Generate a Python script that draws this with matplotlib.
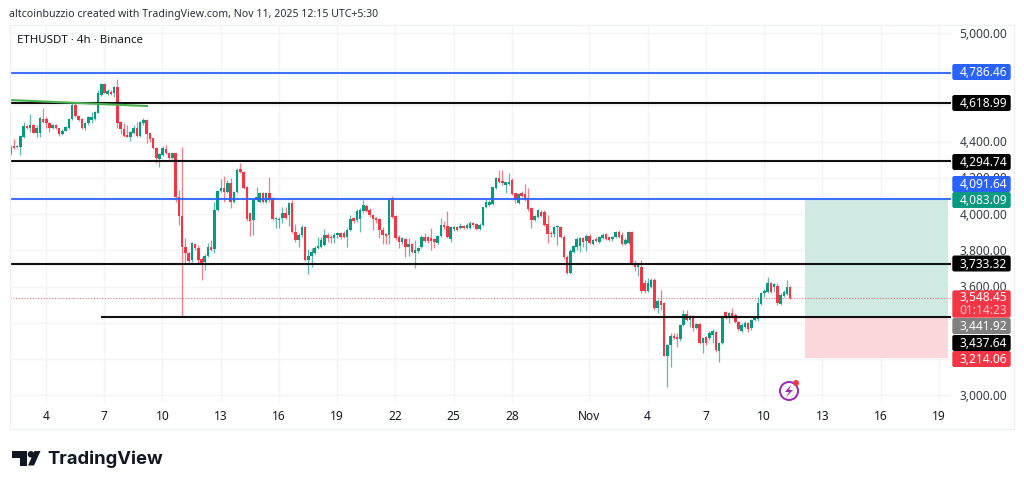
import matplotlib
matplotlib.use("Agg")
from matplotlib import pyplot as plt
from matplotlib.patches import FancyBboxPatch, Polygon, Circle, Rectangle

plt.rcParams["font.family"] = ["Noto Sans", "DejaVu Sans"]

# 4h candles
opens = [4336,4377,4369,4369,4424,4487,4474,4492,4450,4450,4524,4524,4505,4474,4492,4474,4443,4461,4474,4524,
         4603,4542,4524,4474,4502,4520,4524,4560,4658,4719,4662,4676,4671,4700,4511,4470,4437,4428,4450,4478,
         4432,4502,4520,4446,4419,4364,4307,4327,4360,4340,4312,4336,4097,3990,3821,3784,3748,3836,3816,3753,
         3735,3771,3821,3808,4023,4128,4143,4125,4171,4069,4125,4250,4235,4149,4005,3968,4079,4069,4115,4069,
         4115,4088,3972,3968,3978,4009,3996,4060,3904,3858,3886,3928,3748,3770,3788,3816,3821,3830,3886,3876,
         3867,3886,3895,3895,3873,3913,3978,3968,3972,4018,4045,4023,3996,3978,3972,3913,3889,3886,4079,3990,
         3873,3849,3862,3821,3836,3788,3797,3817,3876,3873,3867,3862,3843,3880,3939,3935,3862,3917,3928,3922,
         3935,3922,3926,3954,3946,3919,3941,4038,4051,4057,4143,4198,4185,4161,4167,4189,4115,4060,4115,4112,
         4088,4033,3968,3987,4014,4014,3946,3898,3891,3928,3932,3876,3766,3674,3794,3817,3825,3867,3854,3880,
         3836,3862,3849,3867,3891,3873,3862,3873,3904,3886,3836,3840,3904,3733,3707,3707,3619,3578,3597,3637,
         3484,3523,3508,3220,3279,3328,3321,3310,3389,3448,3417,3439,3371,3393,3288,3321,3315,3334,3352,3247,
         3288,3463,3426,3457,3444,3407,3358,3380,3398,3371,3417,3420,3505,3567,3573,3619,3600,3604,3505,3549,
         3560,3597]
highs = [4382,4413,4384,4437,4511,4491,4551,4498,4492,4535,4584,4535,4511,4498,4498,4478,4468,4487,4529,4612,
         4612,4548,4529,4511,4542,4566,4571,4685,4722,4726,4689,4685,4708,4744,4514,4502,4492,4461,4492,4511,
         4516,4529,4524,4450,4422,4369,4336,4377,4382,4345,4340,4340,4134,4369,3867,3794,3849,3843,3830,3766,
         3779,3840,3858,4069,4134,4193,4211,4189,4198,4130,4253,4281,4240,4156,4009,4088,4152,4125,4125,4119,
         4207,4097,3987,3987,4042,4042,4069,4079,3946,3895,3941,3935,3806,3812,3825,3873,3873,3917,3895,3886,
         3895,3904,3904,3909,3922,3996,3987,4027,4033,4079,4057,4033,4001,3987,3978,3932,3898,4088,4101,3996,
         3886,3876,3867,3867,3843,3858,3821,3886,3895,3880,3922,3871,3886,3977,3965,4018,3935,3935,3935,3950,
         3943,3950,3963,3959,3954,3950,4042,4082,4079,4152,4207,4244,4244,4180,4226,4198,4119,4119,4130,4167,
         4143,4038,3996,4029,4023,4023,3996,3909,3937,3941,3937,3886,3775,3806,3830,3873,3876,3876,3891,3891,
         3862,3873,3880,3895,3898,3880,3880,3909,3913,3904,3867,3909,3909,3748,3733,3748,3637,3646,3646,3646,
         3531,3582,3514,3284,3343,3343,3347,3395,3472,3472,3444,3444,3402,3402,3325,3328,3358,3365,3358,3297,
         3441,3468,3463,3481,3453,3413,3398,3411,3407,3424,3435,3545,3573,3586,3652,3628,3622,3619,3564,3582,
         3637,3604]
lows = [4327,4358,4364,4327,4419,4468,4456,4446,4424,4424,4502,4474,4456,4468,4468,4432,4435,4457,4470,4520,
        4535,4516,4470,4465,4492,4502,4520,4557,4654,4667,4656,4656,4649,4474,4443,4424,4424,4404,4443,4428,
        4428,4492,4391,4400,4358,4285,4259,4321,4332,4307,4307,4069,3941,3431,3729,3725,3738,3803,3725,3637,
        3692,3766,3797,3788,4020,4123,4069,4119,4033,4064,4119,4229,4137,3965,3882,3886,4075,4064,4064,4064,
        4069,3968,3922,3922,3950,3972,3935,3898,3849,3821,3876,3744,3668,3711,3781,3810,3816,3825,3849,3840,
        3843,3867,3862,3867,3821,3909,3950,3959,3904,4009,4012,3987,3913,3950,3867,3836,3836,3836,3978,3858,
        3812,3836,3762,3770,3784,3702,3788,3812,3847,3843,3803,3812,3836,3876,3921,3867,3849,3909,3906,3917,
        3917,3917,3921,3935,3913,3913,3935,4033,4045,4051,4137,4174,4161,4119,4161,4106,4060,4055,4093,4071,
        4020,3926,3961,3979,3983,3935,3840,3876,3873,3830,3871,3751,3670,3670,3788,3803,3794,3821,3799,3834,
        3829,3847,3843,3862,3858,3852,3854,3867,3869,3830,3829,3836,3722,3689,3659,3564,3564,3573,3591,3472,
        3453,3472,3216,3049,3159,3310,3269,3303,3383,3409,3380,3358,3365,3284,3236,3280,3306,3288,3242,3187,
        3284,3420,3398,3426,3398,3358,3350,3372,3352,3363,3409,3413,3499,3545,3567,3564,3573,3499,3499,3542,
        3553,3531]
closes = [4369,4364,4378,4432,4487,4474,4492,4450,4474,4529,4507,4502,4474,4492,4474,4443,4461,4483,4524,4603,
          4542,4520,4474,4505,4535,4535,4566,4667,4719,4671,4682,4662,4700,4502,4470,4432,4428,4456,4478,4432,
          4511,4520,4443,4413,4364,4308,4331,4364,4340,4312,4336,4093,3990,3821,3784,3744,3840,3812,3748,3729,
          3771,3821,3803,4023,4128,4143,4125,4171,4069,4125,4244,4235,4143,3972,3965,4082,4093,4115,4069,4115,
          4079,3972,3978,3976,4005,3978,4060,3904,3858,3886,3928,3748,3770,3794,3816,3825,3858,3886,3867,3867,
          3886,3895,3876,3876,3913,3972,3965,4020,4023,4051,4018,3996,3972,3968,3913,3886,3880,4079,3987,3867,
          3849,3867,3821,3836,3794,3803,3816,3876,3854,3854,3854,3849,3880,3939,3928,3873,3928,3928,3913,3935,
          3922,3941,3950,3941,3919,3941,4038,4069,4069,4149,4198,4180,4171,4176,4180,4112,4082,4112,4101,4079,
          4027,3968,3990,4023,3990,3941,3891,3891,3932,3935,3876,3762,3674,3799,3825,3862,3867,3849,3880,3840,
          3858,3852,3873,3886,3865,3858,3873,3904,3876,3836,3858,3904,3729,3707,3725,3578,3578,3622,3637,3485,
          3523,3499,3220,3279,3328,3319,3310,3389,3448,3417,3439,3371,3393,3292,3315,3288,3347,3358,3251,3288,
          3435,3426,3457,3435,3407,3367,3389,3402,3365,3417,3426,3508,3567,3578,3619,3573,3615,3508,3555,3573,
          3597,3536]

first_candle_day = 2.18
candle_days = 1 / 6

# drawn levels (line positions on the price axis)
blue_levels = [4779, 4084]
black_levels = [4614, 4291, 3728]
lower_black_level = 3433
lower_black_start = 6.885
last_price_level = 3540
trend_days = [2.145, 9.2]
trend_prices = [4630, 4597]

position_start = 43.1
position_end = 50.47
target_price = 4084
entry_price = 3433
stop_price = 3207

day_ticks = [4, 7, 10, 13, 16, 19, 22, 25, 28, 32, 35, 38, 41, 44, 47, 50]
day_labels = ["4", "7", "10", "13", "16", "19", "22", "25", "28", "Nov", "4", "7", "10", "13", "16", "19"]
price_grid = [5000, 4800, 4600, 4400, 4200, 4000, 3800, 3600, 3400, 3200, 3000]
price_ticks = [5000, 4400, 4200, 4000, 3800, 3600, 3000]
price_tick_labels = ["5,000.00", "4,400.00", "4,200.00", "4,000.00", "3,800.00", "3,600.00", "3,000.00"]

tag_texts = ["4,786.46", "4,618.99", "4,294.74", "4,091.64", "4,083.09", "3,733.32",
             "3,441.92", "3,437.64", "3,214.06"]
tag_rows = [72, 103, 162, 184, 200, 263.5, 326, 343, 359]
tag_colors = ["#2962ff", "#000000", "#000000", "#2962ff", "#089981", "#000000",
              "#808080", "#000000", "#f23645"]

UP = "#089981"
DOWN = "#f23645"

fig = plt.figure(figsize=(10.24, 4.87), dpi=100, facecolor="white")
ax = fig.add_axes([10 / 1024, 1 - 402 / 487, 941 / 1024, 377 / 487])
ax.set_xlim(2.145, 50.63)
ax.set_ylim(2964, 5044)
ax.set_xticks(day_ticks)
ax.set_xticklabels(day_labels, fontsize=8.6, color="#131722")
ax.get_xticklabels()[9].set_fontweight("bold")
ax.tick_params(axis="x", length=0, pad=6)
ax.set_yticks(price_grid)
ax.tick_params(axis="y", length=0, labelleft=False)
ax.grid(color="#f3f4f6", lw=1)
ax.set_axisbelow(True)
for s in ax.spines.values():
    s.set_visible(False)

# trade box
ax.fill_between([position_start, position_end], entry_price, target_price, color="#cfe9e3", lw=0, zorder=1)
ax.fill_between([position_start, position_end], stop_price, entry_price, color="#fbd6da", lw=0, zorder=1)

# candles
days = [first_candle_day + i * candle_days for i in range(len(closes))]
colors = [UP if c >= o else DOWN for o, c in zip(opens, closes)]
ax.vlines(days, lows, highs, colors=colors, lw=0.9, alpha=0.65, zorder=2)
ax.bar(days, [abs(c - o) for o, c in zip(opens, closes)], bottom=[min(o, c) for o, c in zip(opens, closes)],
       width=0.13, color=colors, lw=0, zorder=3)

# levels
ax.axhline(last_price_level, color=DOWN, lw=0.8, ls=(0, (1, 1.5)), alpha=0.7, zorder=2)
for level in blue_levels:
    ax.axhline(level, color="#2962ff", lw=1.5, alpha=0.9, zorder=4)
for level in black_levels:
    ax.axhline(level, color="#111111", lw=1.5, zorder=4)
ax.plot([lower_black_start, 50.63], [lower_black_level] * 2, color="#111111", lw=1.5, zorder=4)
ax.plot(trend_days, trend_prices, color="#4caf50", lw=1.5, zorder=5)

# overlay in pixel space for the panel frame, price scale and logo
ov = fig.add_axes([0, 0, 1, 1], facecolor="none")
ov.set_xlim(0, 1024)
ov.set_ylim(487, 0)
ov.axis("off")
ov.add_patch(Rectangle((9.5, 25), 1004.5, 404, fill=False, ec="#eef0f3", lw=1))

ov.text(9, 14, "altcoinbuzzio created with TradingView.com, Nov 11, 2025 12:15 UTC+5:30",
        fontsize=7.6, color="#2a2e39", va="center")
ov.text(17, 40.5, "ETHUSDT · 4h · Binance", fontsize=8.3, color="#131722", va="center")

for price, label in zip(price_ticks, price_tick_labels):
    ov.text(1007, 34 + (5000 - price) * 0.18125, label, fontsize=8.6, color="#3a3e49", ha="right", va="center")


def tag(y0, y1, color):
    ov.add_patch(FancyBboxPatch((953, y0 + 1), 57, y1 - y0 - 2, boxstyle="round,pad=0,rounding_size=1.5",
                                fc=color, ec=color, lw=1, zorder=4))


for text, row, color in zip(tag_texts, tag_rows, tag_colors):
    tag(row - 8.3, row + 8.3, color)
    ov.text(1007, row + 0.5, text, fontsize=8.6, color="white", ha="right", va="center", zorder=5)

tag(290, 318, DOWN)
ov.text(1007, 297.5, "3,548.45", fontsize=8.6, color="white", ha="right", va="center", zorder=5)
ov.text(1007, 310.5, "01:14:23", fontsize=8.6, color="#ffc4ca", ha="right", va="center", zorder=5)

# alert icon
ov.add_patch(Circle((789, 391), 9, fill=False, ec="#9c27b0", lw=1.4))
ov.add_patch(Polygon([[791, 385], [785, 392], [789, 392], [786, 397], [793, 390], [789, 390]], fc="#9c27b0", ec="none"))
ov.add_patch(Circle((796, 383), 3, fc=DOWN, ec="none", zorder=3))

# logo
ov.add_patch(Polygon([[12, 451], [27, 451], [27, 465.5], [20, 465.5], [20, 457.5], [12, 457.5]], fc="#131722", ec="none"))
ov.add_patch(Circle((31, 454.3), 3.3, fc="#131722", ec="none"))
ov.add_patch(Polygon([[34.5, 451], [40.5, 451], [34, 465.5], [28, 465.5]], fc="#131722", ec="none"))
ov.text(47, 459, "TradingView", fontsize=13.3, fontweight="bold", color="#131722", va="center",
        family=["Inter", "DejaVu Sans"])

fig.savefig("out.png", dpi=100)
